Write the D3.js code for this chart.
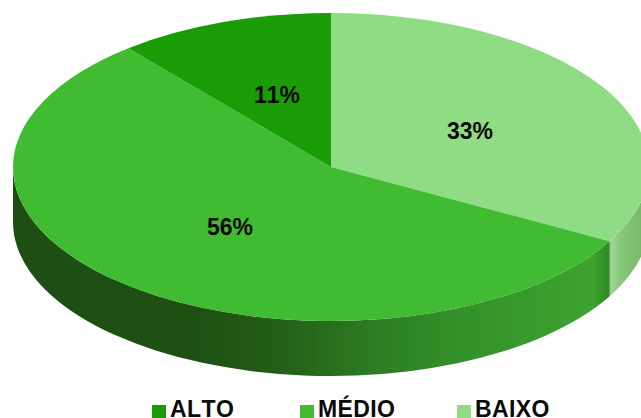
<!DOCTYPE html>
<html>
<head>
<meta charset="utf-8">
<script src="https://cdn.jsdelivr.net/npm/d3@7"></script>
<style>
html,body{margin:0;padding:0;background:#fff;overflow:hidden}
text{font-family:"Liberation Sans",Arial,sans-serif;font-weight:bold;fill:#0a0a0a;font-kerning:none}
</style>
</head>
<body>
<script>
// Share of each level, clockwise from twelve o'clock
const levels = ["BAIXO", "MÉDIO", "ALTO"];
const shares = [33, 56, 11];
const topColors = ["#90dc84", "#40bb32", "#1a9c06"];
const legendOrder = ["ALTO", "MÉDIO", "BAIXO"];
const percentLabels = ["33%", "56%", "11%"];

const width = 641, height = 418;
const cx = 331, cy = 167, rx = 318, ry = 154, depth = 55;
const squash = ry / rx;

const svg = d3.select("body").append("svg")
  .attr("width", width).attr("height", height)
  .style("display", "block");

const defs = svg.append("defs");

// Horizontal shading of the rim, one ramp per visible slice
const rimStops = {
  "MÉDIO": [[0, "#1d4f12"], [0.3, "#1e5013"], [0.45, "#245f18"], [0.62, "#2e7e23"], [0.75, "#34902a"], [0.93, "#3ba02e"], [0.975, "#3ea32f"], [1, "#2f8a25"]],
  "BAIXO": [[0, "#74b566"], [0.12, "#a0d696"], [0.3, "#88c87b"], [1, "#72b464"]]
};
const rimRange = { "MÉDIO": [13, 608], "BAIXO": [607, 649] };
levels.forEach((name, i) => {
  if (!rimStops[name]) return;
  const g = defs.append("linearGradient")
    .attr("id", "rim" + i)
    .attr("gradientUnits", "userSpaceOnUse")
    .attr("x1", rimRange[name][0] - cx).attr("x2", rimRange[name][1] - cx)
    .attr("y1", 0).attr("y2", 0);
  rimStops[name].forEach(s => g.append("stop").attr("offset", s[0]).attr("stop-color", s[1]));
});

const pie = d3.pie().sort(null).value(d => d);
const arcs = pie(shares);
const arc = d3.arc().innerRadius(0).outerRadius(rx);

// Everything round the disc is drawn on a circle, then flattened into an ellipse
const disc = svg.append("g")
  .attr("transform", `translate(${cx},${cy}) scale(1,${squash})`);

// Rim: only the part of each slice facing the viewer (90° to 270° from the top)
const rimPath = (a0, a1) => {
  const p = d3.path(), d = depth / squash, off = -Math.PI / 2;
  p.arc(0, 0, rx, a0 + off, a1 + off, false);
  p.arc(0, d, rx, a1 + off, a0 + off, true);
  p.closePath();
  return p.toString();
};
arcs.forEach((a, i) => {
  const a0 = Math.max(a.startAngle, Math.PI / 2);
  const a1 = Math.min(a.endAngle, 3 * Math.PI / 2);
  if (a1 <= a0) return;
  disc.append("path").attr("d", rimPath(a0, a1)).attr("fill", `url(#rim${i})`);
});

// Top face
disc.selectAll("path.slice").data(arcs).join("path")
  .attr("class", "slice")
  .attr("d", arc)
  .attr("fill", (d, i) => topColors[i]);

// Percentages on the top face
const labelAnchor = { "33%": [470, 131], "56%": [230, 227], "11%": [277, 95] };
svg.selectAll("text.pct").data(percentLabels).join("text")
  .attr("class", "pct")
  .attr("x", d => labelAnchor[d][0]).attr("y", d => labelAnchor[d][1])
  .attr("dy", "0.35em")
  .attr("text-anchor", "middle")
  .attr("font-size", 23)
  .text(d => d);

// Legend along the bottom edge
const legendX = d3.scaleOrdinal().domain(legendOrder).range([152, 300, 457]);
const legend = svg.selectAll("g.key").data(legendOrder).join("g")
  .attr("class", "key")
  .attr("transform", d => `translate(${legendX(d)},0)`);
legend.append("rect")
  .attr("x", 0).attr("y", 405).attr("width", 14).attr("height", 13)
  .attr("fill", d => topColors[levels.indexOf(d)]);
legend.append("text")
  .attr("x", 18).attr("y", 417)
  .attr("font-size", 23)
  .attr("letter-spacing", 0.4)
  .text(d => d);
</script>
</body>
</html>
